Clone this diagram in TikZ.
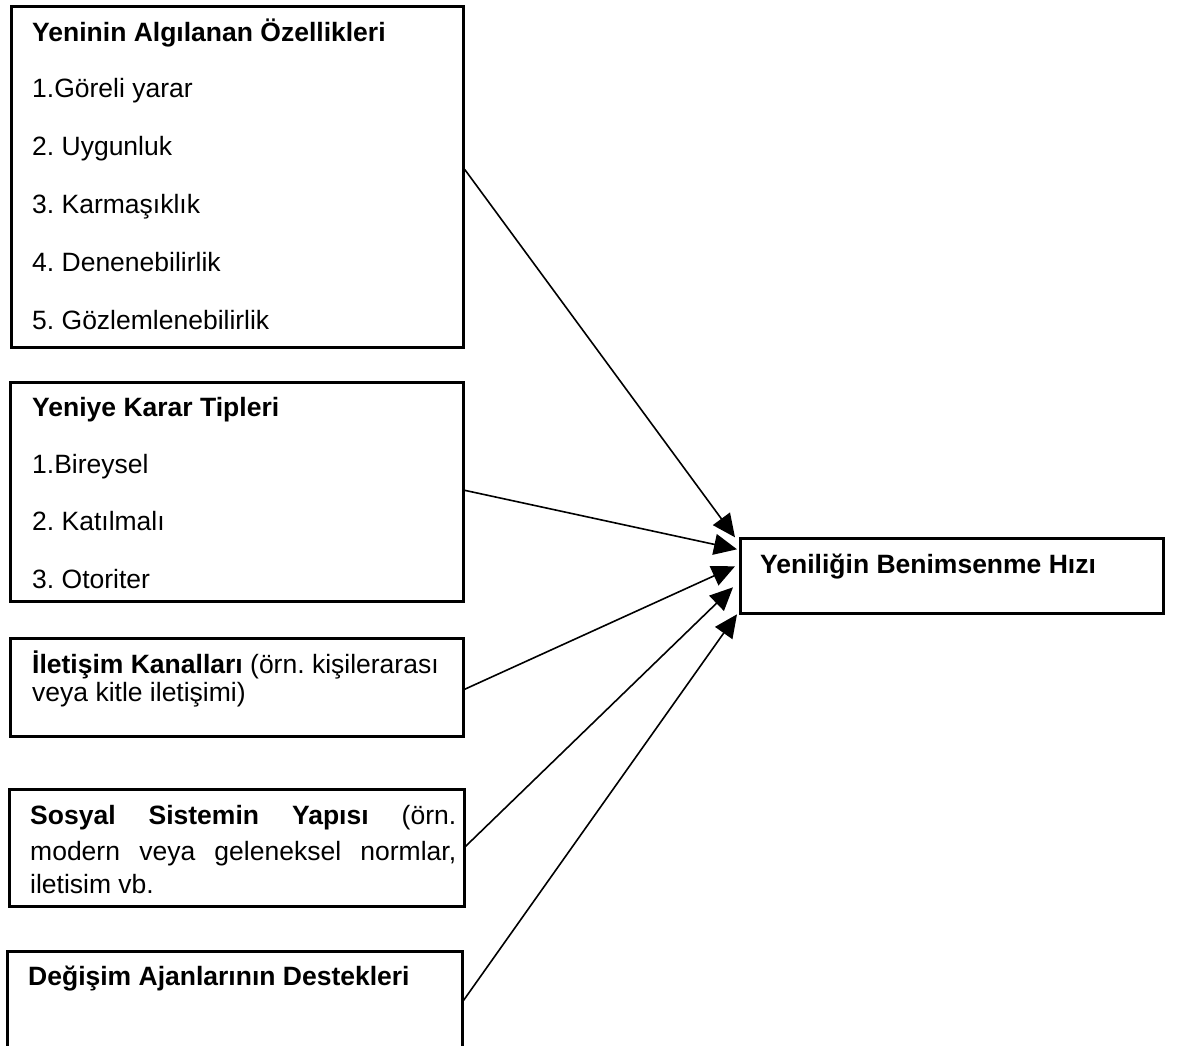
\documentclass[tikz,border=0pt]{standalone}
\usepackage{fontspec}
\setmainfont{Liberation Sans}
\usetikzlibrary{arrows.meta}
\frenchspacing

\begin{document}
\begin{tikzpicture}[x=1pt,y=-1pt,
  frame/.style={draw, line width=2.6pt, inner sep=0pt, anchor=north west},
  txt/.style={anchor=base west, inner sep=0pt, font=\fontsize{26.5}{30}\selectfont},
  link/.style={line width=1.6pt, -{Triangle[length=23pt,width=21pt]}}]

\useasboundingbox (0,0) rectangle (1186,1046);
\clip (0,0) rectangle (1186,1046);

% factor boxes on the left
\node[frame, minimum width=452pt, minimum height=341pt] (b1) at (10,5) {};
\node[frame, minimum width=453pt, minimum height=219pt] (b2) at (9,381) {};
\node[frame, minimum width=453pt, minimum height=98pt]  (b3) at (9,637) {};
\node[frame, minimum width=455pt, minimum height=117pt] (b4) at (8,788) {};
\node[frame, minimum width=455pt, minimum height=110pt] (b5) at (6,950) {};

% outcome box
\node[frame, minimum width=423pt, minimum height=75pt] (tgt) at (739,537) {};

% texts of the first box
\node[txt] (t1a) at (32,42)  {\textbf{Yeninin Algılanan Özellikleri}};
\node[txt] (t1b) at (32,98)  {1.Göreli yarar};
\node[txt] (t1c) at (32,156) {2. Uygunluk};
\node[txt] (t1d) at (32,213) {3. Karmaşıklık};
\node[txt] (t1e) at (32,271) {4. Denenebilirlik};
\node[txt] (t1f) at (32,329) {5. Gözlemlenebilirlik};

% texts of the second box
\node[txt] (t2a) at (32,416) {\textbf{Yeniye Karar Tipleri}};
\node[txt] (t2b) at (32,473) {1.Bireysel};
\node[txt] (t2c) at (32,530) {2. Katılmalı};
\node[txt] (t2d) at (32,588) {3. Otoriter};

% texts of the third box
\node[txt] (t3a) at (32,673) {\textbf{İletişim Kanalları} (örn. kişilerarası};
\node[txt] (t3b) at (32,701) {veya kitle iletişimi)};

% texts of the fourth box (justified)
\node[txt] (t4a) at (30,824) {\hbox to 426pt{\textbf{Sosyal}\hfill\textbf{Sistemin}\hfill\textbf{Yapısı}\hfill(örn.}};
\node[txt] (t4b) at (30,860) {\hbox to 426pt{modern\hfill veya\hfill geleneksel\hfill normlar,}};
\node[txt] (t4c) at (30,893) {iletisim vb.};

% text of the fifth box
\node[txt] (t5a) at (28,985) {\textbf{Değişim Ajanlarının Destekleri}};

% outcome text
\node[txt] (tt) at (760,573) {\textbf{Yeniliğin Benimsenme Hızı}};

% connectors
\draw[link] ([yshift=7.5pt]b1.east) -- ([xshift=-4pt,yshift=38.5pt]tgt.west);
\draw[link] ([yshift=1.5pt]b2.east) -- ([xshift=-2pt,yshift=26.5pt]tgt.west);
\draw[link] ([yshift=-2pt]b3.east)  -- ([xshift=-4pt,yshift=9.5pt]tgt.west);
\draw[link] ([yshift=1.5pt]b4.east) -- ([xshift=-6pt,yshift=-11.5pt]tgt.west);
\draw[link] ([yshift=6pt]b5.east)   -- ([xshift=-2pt,yshift=-38.5pt]tgt.west);

\end{tikzpicture}
\end{document}
